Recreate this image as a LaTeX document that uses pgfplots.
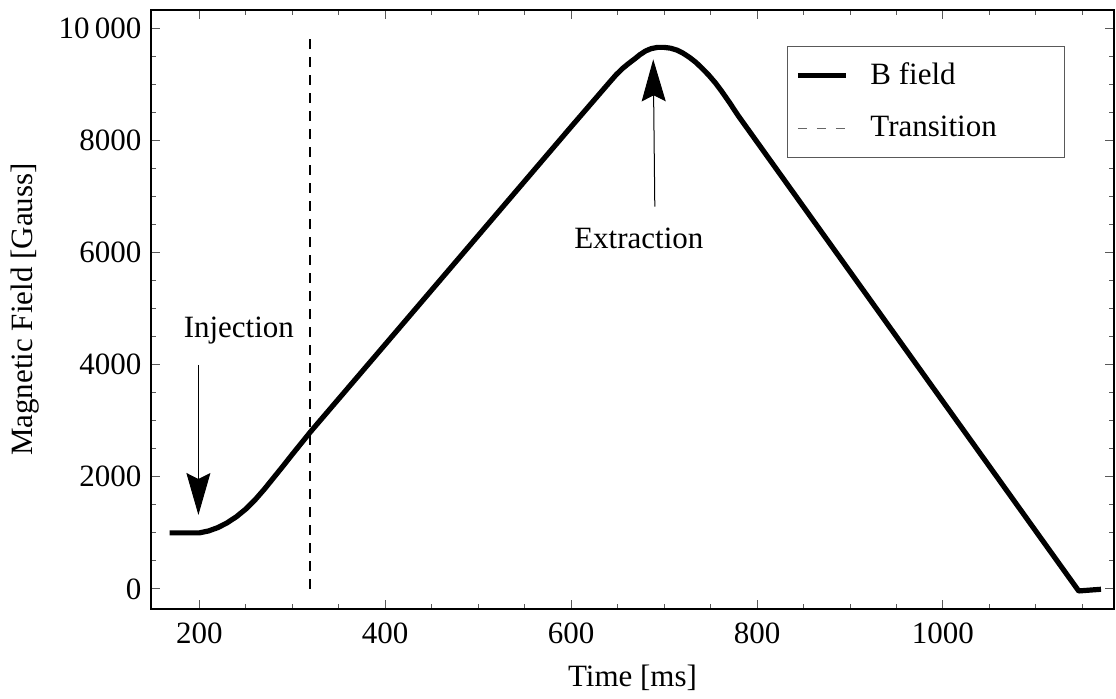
\documentclass[border=0pt]{standalone}
\usepackage{fontspec}
\setmainfont{Liberation Serif}
\usepackage{pgfplots}
\pgfplotsset{compat=1.18}
\usetikzlibrary{arrows.meta}

\pgfplotstableread{
x y
168 1000
200 1000
210 1035
220 1095
230 1180
240 1290
250 1425
260 1590
270 1780
280 1985
290 2190
300 2400
320 2810
400 4360
500 6300
600 8240
640 9008
648 9160
655 9275
662 9370
668 9445
674 9525
680 9590
686 9632
693 9655
700 9655
707 9640
714 9605
720 9555
727 9480
734 9390
741 9280
748 9160
755 9025
762 8870
770 8680
780 8430
900 5655
1000 3341
1100 1028
1146 -35
1170 -5
}\bfield

\begin{document}
\fontsize{15.5pt}{18pt}\selectfont
\begin{tikzpicture}
\begin{axis}[
  scale only axis, width=481.5pt, height=299.5pt,
  xmin=148, xmax=1184, ymin=-357, ymax=10321,
  xtick={200,400,600,800,1000}, xticklabels={200,400,600,800,1000},
  minor xtick={250,300,350,450,500,550,650,700,750,850,900,950,1050,1100,1150},
  ytick={0,2000,4000,6000,8000,10000}, yticklabels={0,2000,4000,6000,8000,10\,000},
  minor ytick={500,1000,1500,2500,3000,3500,4500,5000,5500,6500,7000,7500,8500,9000,9500},
  tick align=inside, major tick length=4.5pt, minor tick length=2.5pt,
  tick style={line width=0.5pt, color=black!65},
  axis line style={line width=0.6pt},
  /pgf/number format/assume math mode=true,
  xticklabel style={inner ysep=6.8pt},
  yticklabel style={inner xsep=4.6pt},
  xlabel={Time [ms]}, ylabel={Magnetic Field [Gauss]},
  xlabel style={at={(axis description cs:0.5,-0.115)}, anchor=center},
  ylabel style={at={(axis description cs:-0.1308,0.5)}, anchor=center, rotate=0},
  legend style={at={(rel axis cs:0.660,0.940)}, anchor=north west, draw=black!65, line width=0.6pt,
    inner xsep=4pt, inner ysep=6pt, row sep=9.5pt, font=\fontsize{15.5pt}{18pt}\selectfont},
  legend cell align=left,
  legend image code/.code={\draw[#1] (0pt,0pt) -- (24pt,0pt);},
]
\addplot[black, line width=2.6pt, line join=round] table[x=x,y=y] {\bfield};
\addlegendentry{\hspace{9pt}\makebox[91pt][l]{B field}}
\addplot[black, line width=0.6pt, dash pattern=on 5pt off 4pt, forget plot] coordinates {(319,0) (319,9900)};
\addlegendimage{black!60, line width=0.6pt, dash pattern=on 4.5pt off 5pt}
\addlegendentry{\hspace{9pt}\makebox[91pt][l]{Transition}}

\node[anchor=base] at (axis cs:242.5,4480) {Injection};
\draw[line width=0.5pt, -{Stealth[length=21pt,width=12pt,inset=3pt]}] (axis cs:199,3993) -- (axis cs:199,1319);
\node[anchor=base] at (axis cs:672.8,6078) {Extraction};
\draw[line width=0.5pt, -{Stealth[length=21pt,width=12pt,inset=3pt]}] (axis cs:690,6815) -- (axis cs:688.3,9442);
\end{axis}
\pgfresetboundingbox
\path[use as bounding box] ([xshift=-75.5pt,yshift=-44.5pt]current axis.south west) rectangle ([xshift=1pt,yshift=5pt]current axis.north east);
\end{tikzpicture}
\end{document}
